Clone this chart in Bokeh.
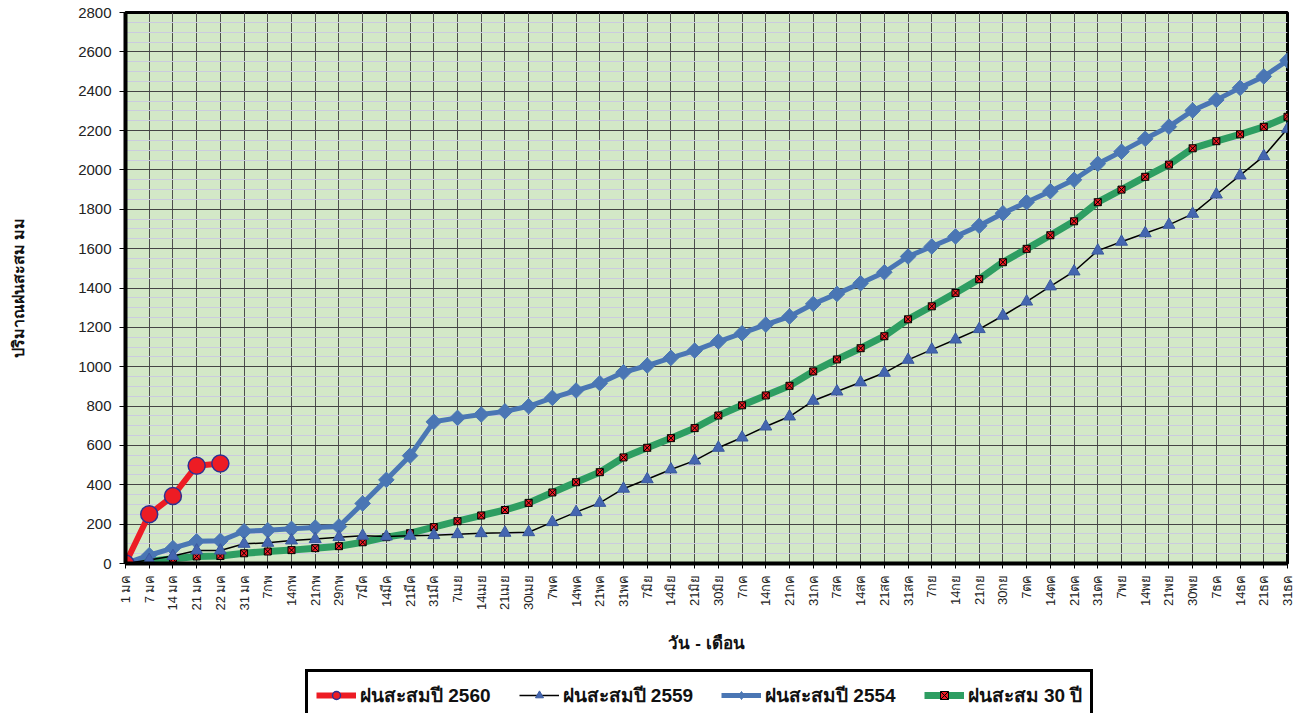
import numpy as np
from bokeh.plotting import figure
from bokeh.layouts import column
from bokeh.models import (Range1d, FixedTicker, SingleIntervalTicker, Legend, LegendItem)
from bokeh.embed import file_html
from bokeh.resources import INLINE

categories = ["1 มค", "7 มค", "14 มค", "21 มค", "22 มค", "31 มค", "7กพ", "14กพ", "21กพ", "29กพ",
              "7มีค", "14มีค", "21มีค", "31มีค", "7เมย", "14เมย", "21เมย", "30เมย", "7พค", "14พค",
              "21พค", "31พค", "7มิย", "14มิย", "21มิย", "30มิย", "7กค", "14กค", "21กค", "31กค",
              "7สค", "14สค", "21สค", "31สค", "7กย", "14กย", "21กย", "30กย", "7ตค", "14ตค",
              "21ตค", "31ตค", "7พย", "14พย", "21พย", "30พย", "7ธค", "14ธค", "21ธค", "31ธค"]

rain_2560 = [0, 250, 343, 497, 508]

rain_2559 = [0, 18, 38, 66, 66, 100, 105, 117, 124, 134,
             141, 137, 141, 144, 149, 154, 156, 159, 210, 261,
             308, 380, 428, 478, 523, 588, 640, 696, 747, 827,
             874, 921, 969, 1035, 1087, 1138, 1191, 1259, 1331, 1408,
             1484, 1590, 1635, 1678, 1721, 1777, 1875, 1972, 2070, 2209]

rain_2554 = [0, 42, 78, 113, 115, 164, 169, 176, 183, 188,
             305, 425, 548, 720, 740, 757, 773, 799, 842, 879,
             916, 972, 1006, 1045, 1082, 1128, 1170, 1214, 1255, 1319,
             1370, 1424, 1480, 1560, 1611, 1662, 1716, 1780, 1836, 1892,
             1950, 2031, 2093, 2158, 2220, 2302, 2356, 2417, 2475, 2556]

rain_30yr = [0, 12, 24, 36, 38, 52, 61, 68, 78, 88,
             108, 134, 154, 185, 215, 244, 272, 308, 361, 413,
             464, 539, 588, 637, 688, 752, 804, 854, 903, 976,
             1037, 1094, 1155, 1241, 1307, 1375, 1445, 1531, 1599, 1668,
             1739, 1836, 1900, 1965, 2027, 2110, 2146, 2181, 2219, 2270]

series_labels = ["ฝนสะสมปี 2560", "ฝนสะสมปี 2559", "ฝนสะสมปี 2554", "ฝนสะสม 30 ปี"]

xs = list(range(len(categories)))

# styles per series
RED, BLUE, TRI, GREEN = "#ed1c24", "#4a76b4", "#4466b0", "#2e9e62"


def add_series(fig, legend_sizes=False):
    x1 = xs[:len(rain_2560)]
    g_line = fig.line(xs, rain_30yr, line_color=GREEN, line_width=7)
    g_mark = fig.scatter(xs, rain_30yr, marker="square_x", size=6 if legend_sizes else 7,
                         fill_color=RED, line_color="black", line_width=1)
    b_line = fig.line(xs, rain_2554, line_color=BLUE, line_width=5)
    if legend_sizes:
        b_mark = fig.scatter(xs, rain_2554, marker="diamond", size=15,
                             fill_color=BLUE, line_color=BLUE)
    else:
        b_mark = fig.scatter(xs, rain_2554, marker="square", angle=np.pi / 4, size=11,
                             fill_color=BLUE, line_color=BLUE)
    k_line = fig.line(xs, rain_2559, line_color="black", line_width=1.5)
    k_mark = fig.scatter(xs, rain_2559, marker="triangle", size=12,
                         fill_color=TRI, line_color="#3a5aa0")
    r_line = fig.line(x1, rain_2560, line_color=RED, line_width=6)
    r_mark = fig.scatter(x1, rain_2560, marker="circle", size=14 if legend_sizes else 17,
                         fill_color=RED, line_color="#2e3192", line_width=1.5)
    return [(r_line, r_mark), (k_line, k_mark), (b_line, b_mark), (g_line, g_mark)]


p = figure(width=1304, height=665, output_backend="svg", toolbar_location=None,
           x_range=Range1d(0, len(categories) - 1), y_range=Range1d(0, 2800),
           min_border_left=125, min_border_right=17, min_border_top=12, min_border_bottom=102)

p.background_fill_color = "#d3e8c7"
p.border_fill_color = "white"
p.outline_line_color = "black"
p.outline_line_width = 3

# axes
p.xaxis.ticker = FixedTicker(ticks=xs, minor_ticks=[])
p.xaxis.major_label_overrides = {i: c for i, c in enumerate(categories)}
p.xaxis.major_label_orientation = np.pi / 2
p.xaxis.major_label_text_font = "Liberation Sans"
p.xaxis.major_label_text_font_size = "13px"
p.xaxis.major_label_text_color = "#222222"
p.xaxis.major_label_standoff = 6
p.xaxis.major_tick_out = 5
p.xaxis.major_tick_in = 0
p.xaxis.major_tick_line_color = "black"
p.xaxis.axis_line_width = 4
p.xaxis.axis_line_color = "black"
p.xaxis.axis_label = "วัน - เดือน"
p.xaxis.axis_label_text_font = "Liberation Sans"
p.xaxis.axis_label_text_font_style = "bold"
p.xaxis.axis_label_text_font_size = "17px"
p.xaxis.axis_label_text_color = "#111111"
p.xaxis.axis_label_standoff = 20

p.yaxis.ticker = SingleIntervalTicker(interval=200, num_minor_ticks=4)
p.yaxis.major_label_text_font = "Liberation Sans"
p.yaxis.major_label_text_font_size = "15px"
p.yaxis.major_label_text_color = "#222222"
p.yaxis.major_label_standoff = 8
p.yaxis.major_tick_out = 6
p.yaxis.major_tick_in = 0
p.yaxis.minor_tick_line_color = None
p.yaxis.axis_line_width = 4
p.yaxis.axis_line_color = "black"
p.yaxis.axis_label = "ปริมาณฝนสะสม มม"
p.yaxis.axis_label_text_font = "Liberation Sans"
p.yaxis.axis_label_text_font_style = "bold"
p.yaxis.axis_label_text_font_size = "16px"
p.yaxis.axis_label_text_color = "#111111"
p.yaxis.axis_label_standoff = 48

# grids
p.xgrid.grid_line_color = "#4d4d4d"
p.xgrid.grid_line_width = 1
p.ygrid.grid_line_color = "#444444"
p.ygrid.grid_line_width = 1
p.ygrid.minor_grid_line_color = "#cbcbdf"
p.ygrid.minor_grid_line_width = 1

add_series(p)

# legend strip: a second, axis-less figure whose ranges show none of the data
q = figure(width=1304, height=48, output_backend="svg", toolbar_location=None,
           x_axis_type=None, y_axis_type=None,
           x_range=Range1d(-1000, -999), y_range=Range1d(-1000, -999),
           min_border_left=0, min_border_right=0, min_border_top=0, min_border_bottom=0)
q.outline_line_color = None
q.background_fill_color = "white"
q.border_fill_color = "white"
q.grid.visible = False
pairs = add_series(q, legend_sizes=True)

# q's frame is aligned with p's frame (left edge at 125 px)
legend = Legend(items=[LegendItem(label=lab, renderers=list(rr))
                       for lab, rr in zip(series_labels, pairs)],
                orientation="horizontal", location=(180, -8))
legend.border_line_color = "black"
legend.border_line_alpha = 1
legend.border_line_width = 3
legend.background_fill_color = "white"
legend.background_fill_alpha = 1
legend.label_text_font = "Liberation Sans"
legend.label_text_font_style = "bold"
legend.label_text_font_size = "19px"
legend.label_text_color = "#111111"
legend.glyph_width = 40
legend.glyph_height = 20
legend.label_standoff = 4
legend.spacing = 28
legend.padding = 8
legend.margin = 0
q.add_layout(legend, "center")

layout = column(p, q, spacing=0)
open("out.html", "w").write(file_html(layout, INLINE))
